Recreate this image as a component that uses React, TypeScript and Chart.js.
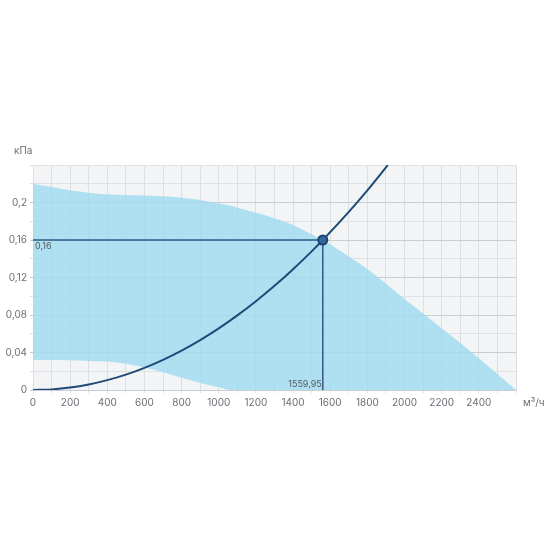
import React, { useEffect, useRef } from "react";
import { Chart, registerables } from "chart.js";

Chart.register(...registerables);

// Flow (m³/h) sample points for the fan operating zone
const zoneFlow = [0, 100, 200, 300, 400, 500, 600, 700, 800, 900, 1000, 1070, 1100, 1200, 1300, 1400, 1480, 1560, 1700, 1800, 2000, 2200, 2400, 2600];
const zoneUpper = [0.22, 0.2165, 0.213, 0.2105, 0.2088, 0.208, 0.2075, 0.2067, 0.2052, 0.2027, 0.199, 0.1962, 0.1945, 0.189, 0.1832, 0.176, 0.168, 0.16, 0.1425, 0.129, 0.097, 0.066, 0.034, 0];
const zoneLower = [0.032, 0.032, 0.0318, 0.031, 0.0303, 0.028, 0.024, 0.019, 0.013, 0.0075, 0.003, 0, 0, 0, 0, 0, 0, 0, 0, 0, 0, 0, 0, 0];

// System curve
const sysFlow = [0, 100, 200, 300, 400, 500, 600, 700, 800, 900, 1000, 1100, 1200, 1300, 1400, 1500, 1560, 1700, 1800, 1910];
const sysPressure = [0, 0.00066, 0.00263, 0.00592, 0.01052, 0.01644, 0.02367, 0.03222, 0.04208, 0.05326, 0.06575, 0.07956, 0.09468, 0.1111, 0.12887, 0.1479, 0.16, 0.19002, 0.213, 0.2399];

// Operating point
const opFlow = 1559.95;
const opPressure = 0.16;
const opFlowLabel = "1559,95";
const opPressureLabel = "0,16";

// Axes
const xTickValues = [0, 200, 400, 600, 800, 1000, 1200, 1400, 1600, 1800, 2000, 2200, 2400];
const xTickLabels = ["0", "200", "400", "600", "800", "1000", "1200", "1400", "1600", "1800", "2000", "2200", "2400"];
const yTickValues = [0, 0.04, 0.08, 0.12, 0.16, 0.2];
const yTickLabels = ["0", "0,04", "0,08", "0,12", "0,16", "0,2"];
const xMax = 2600;
const yMax = 0.24;
const xUnit = "м³/ч";
const yUnit = "кПа";

const FONT = "Inter, 'Noto Sans', sans-serif";
const TEXT = "#6b6f75";
const LINE = "#1f4a78";

function labelFor(values: number[], labels: string[], v: number) {
  for (let i = 0; i < values.length; i++) {
    if (Math.abs(values[i] - v) < 1e-6) return labels[i];
  }
  return "";
}

export default function App() {
  const ref = useRef<HTMLCanvasElement | null>(null);

  useEffect(() => {
    if (!ref.current) return;

    const bgPlugin = {
      id: "bg",
      beforeDraw(chart: any) {
        const { ctx, chartArea: a } = chart;
        ctx.save();
        ctx.fillStyle = "#f3f4f6";
        ctx.fillRect(a.left, a.top, a.right - a.left, a.bottom - a.top);
        ctx.restore();
      },
      afterDraw(chart: any) {
        const { ctx } = chart;
        const xs = chart.scales.x;
        const ys = chart.scales.y;
        ctx.save();
        ctx.font = `10px ${FONT}`;
        ctx.fillStyle = TEXT;
        ctx.textBaseline = "middle";
        ctx.textAlign = "left";
        ctx.fillText(yUnit, 14, 151);
        ctx.fillText(xUnit, 523, 403);
        ctx.font = `9px ${FONT}`;
        ctx.fillStyle = "#555a60";
        ctx.textBaseline = "top";
        ctx.textAlign = "left";
        ctx.fillText(opPressureLabel, xs.getPixelForValue(0) + 2, ys.getPixelForValue(opPressure) + 2);
        ctx.textBaseline = "bottom";
        ctx.textAlign = "right";
        ctx.fillText(opFlowLabel, xs.getPixelForValue(opFlow) - 1, ys.getPixelForValue(0) - 1);
        ctx.restore();
      },
    };

    const chart = new Chart(ref.current, {
      type: "line",
      data: {
        datasets: [
          {
            data: zoneFlow.map((x, i) => ({ x, y: zoneLower[i] })),
            borderWidth: 0,
            borderColor: "rgba(0,0,0,0)",
            pointRadius: 0,
            fill: false,
            cubicInterpolationMode: "monotone",
            order: 10,
          } as any,
          {
            data: zoneFlow.map((x, i) => ({ x, y: zoneUpper[i] })),
            borderWidth: 0,
            borderColor: "rgba(0,0,0,0)",
            backgroundColor: "rgba(160,220,240,0.82)",
            pointRadius: 0,
            fill: "-1",
            cubicInterpolationMode: "monotone",
            order: 9,
          } as any,
          {
            data: [
              { x: 0, y: opPressure },
              { x: opFlow, y: opPressure },
              { x: opFlow, y: 0 },
            ],
            borderColor: "#2f5a85",
            borderWidth: 1.5,
            pointRadius: 0,
            fill: false,
            tension: 0,
            order: 3,
          } as any,
          {
            data: sysFlow.map((x, i) => ({ x, y: sysPressure[i] })),
            borderColor: LINE,
            borderWidth: 2,
            pointRadius: 0,
            fill: false,
            cubicInterpolationMode: "monotone",
            order: 2,
          } as any,
          {
            data: [{ x: opFlow, y: opPressure }],
            borderColor: "#1c4473",
            backgroundColor: "#3566a0",
            borderWidth: 2,
            pointRadius: 4.5,
            showLine: false,
            order: 1,
          } as any,
        ],
      },
      options: {
        animation: false,
        responsive: true,
        maintainAspectRatio: false,
        layout: { padding: { left: 0, top: 165, right: 34, bottom: 140 } },
        plugins: { legend: { display: false }, tooltip: { enabled: false } },
        scales: {
          x: {
            type: "linear",
            min: 0,
            max: xMax,
            afterBuildTicks(scale: any) {
              const t = [];
              for (let v = 0; v <= xMax; v += 100) t.push({ value: v });
              scale.ticks = t;
            },
            afterFit(scale: any) {
              scale.height = 20;
            },
            border: { display: false },
            grid: { color: "#dcdfe3", lineWidth: 1, tickLength: 3 },
            ticks: {
              autoSkip: false,
              maxRotation: 0,
              padding: 4,
              color: TEXT,
              font: { family: FONT, size: 10 },
              callback: (v: any) => labelFor(xTickValues, xTickLabels, Number(v)),
            },
          },
          y: {
            type: "linear",
            min: 0,
            max: yMax,
            afterBuildTicks(scale: any) {
              const t = [];
              for (let i = 0; i <= 12; i++) t.push({ value: Math.round(i * 2) / 100 });
              scale.ticks = t;
            },
            afterFit(scale: any) {
              scale.width = 33;
            },
            border: { display: false },
            grid: {
              color: (c: any) => {
                const v = c.tick ? c.tick.value : 0;
                return labelFor(yTickValues, yTickLabels, v) ? "#c9cdd2" : "#dfe1e5";
              },
              lineWidth: 1,
              tickLength: 3,
            },
            ticks: {
              autoSkip: false,
              padding: 3,
              color: TEXT,
              font: { family: FONT, size: 10 },
              callback: (v: any) => labelFor(yTickValues, yTickLabels, Number(v)),
            },
          },
        },
      },
      plugins: [bgPlugin],
    });

    return () => chart.destroy();
  }, []);

  return (
    <div style={{ position: "fixed", left: 0, top: 0, width: 550, height: 550, background: "#fff" }}>
      <canvas ref={ref} />
    </div>
  );
}
